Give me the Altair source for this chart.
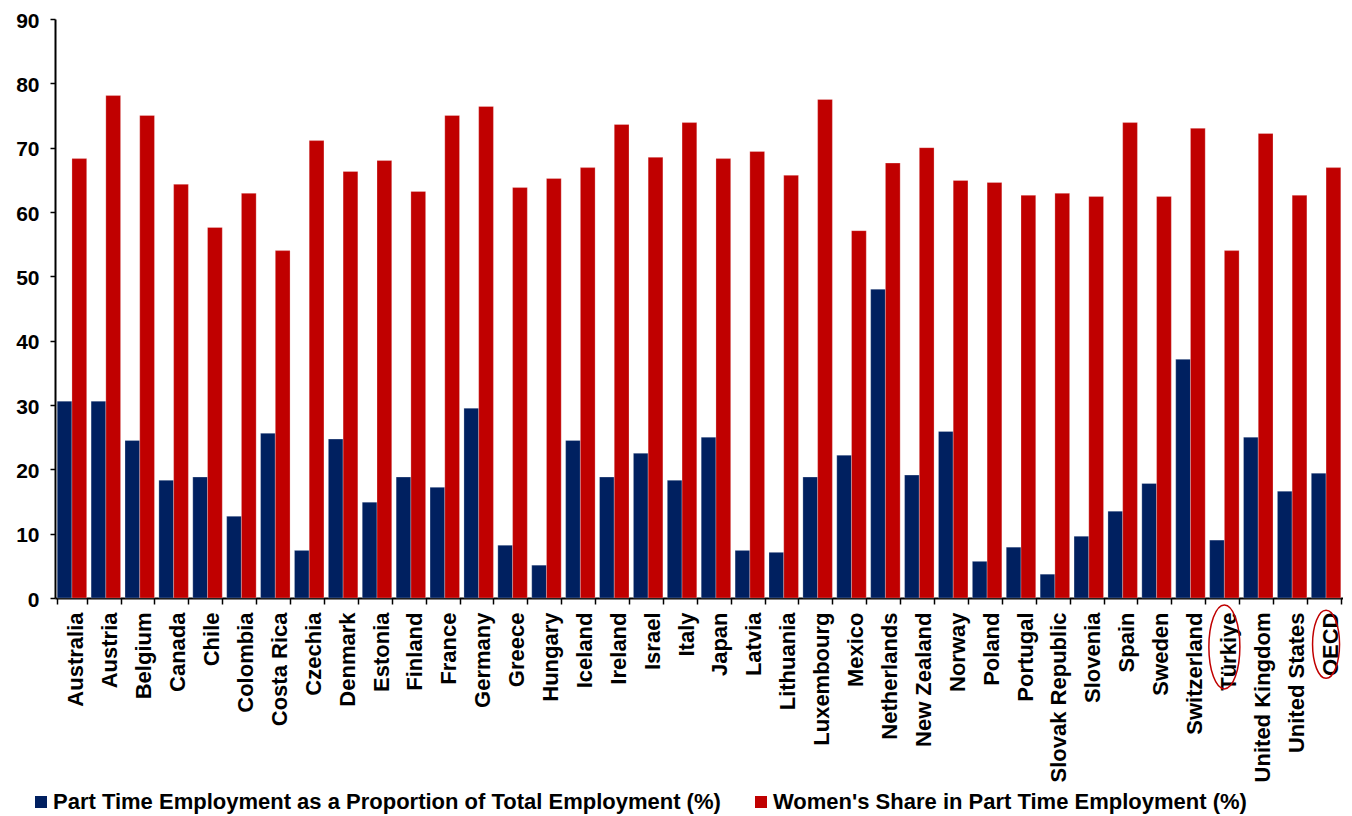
import altair as alt
import pandas as pd

countries = ["Australia", "Austria", "Belgium", "Canada", "Chile", "Colombia", "Costa Rica",
             "Czechia", "Denmark", "Estonia", "Finland", "France", "Germany", "Greece",
             "Hungary", "Iceland", "Ireland", "Israel", "Italy", "Japan", "Latvia",
             "Lithuania", "Luxembourg", "Mexico", "Netherlands", "New Zealand", "Norway",
             "Poland", "Portugal", "Slovak Republic", "Slovenia", "Spain", "Sweden",
             "Switzerland", "Türkiye", "United Kingdom", "United States", "OECD"]

part_time = [30.6, 30.6, 24.5, 18.3, 18.8, 12.7, 25.6, 7.4, 24.7, 14.9, 18.8, 17.2, 29.5,
             8.2, 5.1, 24.5, 18.8, 22.5, 18.3, 25.0, 7.4, 7.1, 18.8, 22.2, 48.0, 19.1, 25.9,
             5.7, 7.9, 3.7, 9.6, 13.5, 17.8, 37.1, 9.0, 25.0, 16.6, 19.4]

women_share = [68.3, 78.1, 75.0, 64.3, 57.6, 62.9, 54.0, 71.1, 66.3, 68.0, 63.2, 75.0, 76.4,
               63.8, 65.2, 66.9, 73.6, 68.5, 73.9, 68.3, 69.4, 65.7, 77.5, 57.1, 67.6, 70.0,
               64.9, 64.6, 62.6, 62.9, 62.4, 73.9, 62.4, 73.0, 54.0, 72.2, 62.6, 66.9]

series_names = ["Part Time Employment as a Proportion of Total Employment (%)",
                "Women's Share in Part Time Employment (%)"]
series_colors = ["#002060", "#C00000"]
y_ticks = [0, 10, 20, 30, 40, 50, 60, 70, 80, 90]

# circled labels (annotation positions in data units below the axis)
highlighted = ["Türkiye", "OECD"]
highlight_y = [-7.6, -7.2]

rows = []
for c, a, b in zip(countries, part_time, women_share):
    rows.append({"country": c, "series": series_names[0], "value": a})
    rows.append({"country": c, "series": series_names[1], "value": b})
df = pd.DataFrame(rows)

FONT = "Liberation Sans"
x_scale = alt.Scale(domain=countries, paddingInner=0.13, paddingOuter=0.065)
y_scale = alt.Scale(domain=[0, 90], nice=False)

x_axis = alt.Axis(title=None, labelAngle=-90, labelFontSize=22, labelPadding=8,
                  labelOffset=4, tickSize=6, tickWidth=1.5, domainWidth=2,
                  tickBand="extent", labelOverlap=False, labelLimit=0)
y_axis = alt.Axis(title=None, values=y_ticks, labelFontSize=21, tickSize=5,
                  labelPadding=11, labelOffset=2, domainWidth=2, tickWidth=1.5,
                  grid=False)

bars = alt.Chart(df).mark_bar(stroke="white", strokeWidth=0.5, strokeOpacity=0.5).encode(
    x=alt.X("country:N", scale=x_scale, sort=None, axis=x_axis),
    xOffset=alt.XOffset("series:N", scale=alt.Scale(domain=series_names), sort=None),
    y=alt.Y("value:Q", scale=y_scale, axis=y_axis),
    color=alt.Color("series:N", scale=alt.Scale(domain=series_names, range=series_colors),
                    legend=alt.Legend(title=None, orient="none", legendX=-25, legendY=772,
                                      direction="horizontal", columns=2, columnPadding=29,
                                      symbolType="square", symbolSize=144,
                                      symbolStrokeWidth=0, labelFontSize=22,
                                      labelFont=FONT, labelFontWeight="bold",
                                      labelLimit=0, labelOffset=1, padding=0)),
)


def ellipse_path(rx):
    k = 0.5523
    return (f"M {rx:.4f} 0 C {rx:.4f} {k:.4f} {k*rx:.4f} 1 0 1 "
            f"C {-k*rx:.4f} 1 {-rx:.4f} {k:.4f} {-rx:.4f} 0 "
            f"C {-rx:.4f} {-k:.4f} {-k*rx:.4f} -1 0 -1 "
            f"C {k*rx:.4f} -1 {rx:.4f} {-k:.4f} {rx:.4f} 0 Z")


ann = pd.DataFrame({"country": highlighted, "value": highlight_y})

ell_tur = alt.Chart(ann.iloc[[0]]).mark_point(
    shape=ellipse_path(0.369), size=7056, filled=False, stroke="#C00000",
    strokeWidth=1.5, opacity=1).encode(
    x=alt.X("country:N", scale=x_scale, sort=None, axis=x_axis),
    y=alt.Y("value:Q", scale=y_scale, axis=y_axis),
)
ell_oecd = alt.Chart(ann.iloc[[1]]).mark_point(
    shape=ellipse_path(0.397), size=4624, filled=False, stroke="#C00000",
    strokeWidth=1.5, opacity=1).encode(
    x=alt.X("country:N", scale=x_scale, sort=None, axis=x_axis),
    y=alt.Y("value:Q", scale=y_scale, axis=y_axis),
)

chart = alt.layer(bars, ell_tur, ell_oecd).properties(
    width=1288, height=579,
    autosize=alt.AutoSizeParams(type="none"),
    padding={"left": 47, "top": 11, "right": 0, "bottom": 216},
).configure_view(stroke=None).configure_axis(
    labelFont=FONT, labelFontWeight="bold", labelColor="black",
    domainColor="black", tickColor="black", grid=False,
)

chart.save("out.html", embed_options={"renderer": "svg", "actions": False})
